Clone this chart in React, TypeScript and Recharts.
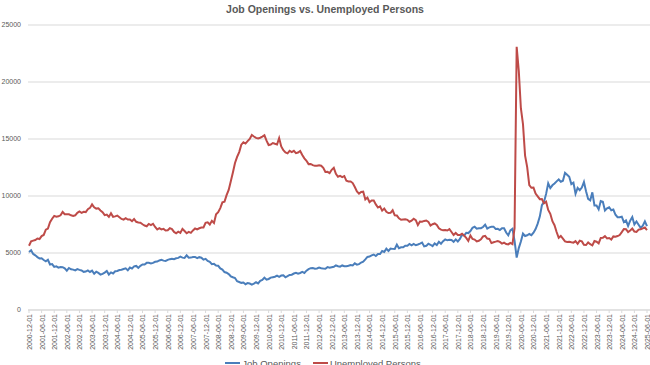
import { LineChart, Line, XAxis, YAxis, CartesianGrid, Legend } from "recharts"

// monthly, 2000-12 .. 2025-06 (thousands)
const jobOpenings = [
  5088,
  5234, 4918, 4797, 4640, 4524, 4534, 4386, 4276, 4410, 3993, 4032, 3781,
  3826, 3713, 3773, 3757, 3659, 3452, 3686, 3568, 3541, 3470, 3585, 3519,
  3463, 3347, 3370, 3472, 3336, 3450, 3176, 3361, 3254, 3108, 3171, 3285,
  3422, 3113, 3301, 3203, 3403, 3420, 3504, 3528, 3601, 3660, 3479, 3722,
  3642, 3828, 3868, 3698, 3877, 3999, 3985, 4135, 4139, 4081, 4136, 4232,
  4244, 4343, 4400, 4332, 4303, 4397, 4459, 4498, 4449, 4534, 4572, 4675,
  4592, 4567, 4798, 4585, 4596, 4641, 4649, 4541, 4634, 4589, 4422, 4483,
  4298, 4218, 4013, 4045, 3903, 3878, 3645, 3543, 3329, 3265, 3145, 2955,
  2877, 2810, 2523, 2459, 2381, 2416, 2261, 2365, 2319, 2232, 2312, 2433,
  2336, 2555, 2637, 2842, 2661, 2722, 2839, 2880, 2921, 3015, 2914, 3022,
  3043, 2869, 2965, 3070, 3097, 3200, 3266, 3186, 3250, 3337, 3251, 3449,
  3585, 3666, 3673, 3614, 3645, 3724, 3662, 3638, 3625, 3765, 3704, 3754,
  3784, 3919, 3840, 3803, 3908, 3840, 3837, 3884, 3950, 3909, 4095, 3981,
  4021, 4164, 4236, 4438, 4653, 4684, 4785, 4864, 4733, 4910, 4913, 5177,
  5087, 5379, 5176, 5387, 5362, 5346, 5731, 5420, 5502, 5495, 5636, 5645,
  5798, 5678, 5796, 5680, 5742, 5820, 5916, 5577, 5629, 5816, 5723, 5599,
  5842, 5703, 5992, 5815, 6035, 6193, 6112, 6152, 6134, 5981, 6196, 6004,
  6233, 6597, 6530, 6773, 6747, 6926, 7209, 7306, 7128, 7170, 7175, 7281,
  7487, 7146, 7245, 7296, 7308, 7109, 7123, 7011, 7168, 7164, 6799, 6552,
  6979, 7118, 6058, 4601, 5431, 6001, 6697, 6492, 6556, 6666, 6565, 6784,
  7099, 7575, 8191, 9193, 9483, 10185, 11108, 10695, 10940, 11094, 11283, 11448,
  11255, 11344, 12027, 11855, 11681, 11040, 11170, 10198, 10717, 10512, 10746, 11234,
  10425, 9745, 9617, 10320, 9165, 9165, 8827, 9553, 9497, 8733, 8925, 9011,
  8748, 8813, 8355, 8140, 8140, 8184, 7711, 7861, 7372, 7839, 8156, 7508,
  7762, 7480, 7200, 7391, 7769, 7357,
]

const unemployed = [
  5634,
  6023, 6089, 6141, 6271, 6226, 6484, 6583, 7042, 7142, 7694, 8003, 8258,
  8182, 8215, 8304, 8599, 8399, 8393, 8390, 8304, 8251, 8307, 8520, 8640,
  8520, 8618, 8588, 8842, 8957, 9266, 9011, 8896, 8921, 8732, 8576, 8317,
  8370, 8167, 8491, 8170, 8212, 8286, 8136, 7990, 7927, 8061, 7932, 7934,
  7784, 7980, 7737, 7672, 7651, 7524, 7406, 7345, 7553, 7453, 7566, 7279,
  7064, 7184, 7072, 7120, 6980, 7001, 7175, 7091, 6847, 6727, 6872, 6762,
  7116, 6927, 6731, 6850, 6766, 6979, 7149, 7067, 7170, 7237, 7240, 7645,
  7685, 7497, 7822, 7637, 8395, 8575, 8937, 9438, 9494, 10074, 10538, 11286,
  12058, 12898, 13426, 13853, 14499, 14707, 14601, 14814, 15009, 15352, 15219, 15098,
  15046, 15113, 15202, 15325, 14849, 14474, 14512, 14648, 14579, 14516, 15081, 14348,
  14013, 13820, 13737, 13957, 13855, 13962, 13763, 13818, 13948, 13594, 13302, 13093,
  12797, 12813, 12713, 12646, 12660, 12692, 12656, 12471, 12115, 12124, 12005, 12298,
  12471, 11950, 11689, 11760, 11654, 11751, 11335, 11279, 11270, 11136, 10787, 10404,
  10202, 10349, 10380, 9702, 9859, 9460, 9608, 9599, 9262, 8990, 9090, 8717,
  8903, 8610, 8504, 8526, 8749, 8310, 8285, 8043, 7915, 7940, 7961, 7906,
  7741, 7840, 8008, 7880, 7451, 7755, 7744, 7813, 7855, 7732, 7409, 7527,
  7589, 7455, 7173, 7054, 6989, 7009, 6971, 7087, 6843, 6576, 6757, 6572,
  6572, 6687, 6529, 6329, 6058, 6541, 6233, 6178, 6012, 6076, 6203, 6451,
  6509, 6271, 6235, 5869, 5942, 5995, 6054, 5968, 5821, 5913, 5789, 5753,
  5892, 5787, 7185, 23090, 20985, 17697, 16308, 13542, 12535, 10956, 10718, 10736,
  10220, 9970, 9722, 9733, 9357, 9493, 8775, 8441, 7788, 7439, 6840, 6333,
  6499, 6266, 6021, 5970, 5986, 5941, 5909, 6038, 5802, 6082, 6016, 5722,
  5698, 5930, 5769, 5670, 6053, 5989, 5842, 6322, 6327, 6479, 6279, 6311,
  6173, 6451, 6423, 6485, 6577, 6833, 7108, 7084, 6834, 6982, 7142, 6886,
  6849, 7052, 7083, 7163, 7237, 7015,
]

const yTicks = [0, 5000, 10000, 15000, 20000, 25000]

const START_YEAR = 2000
const START_MONTH = 12

const dates = jobOpenings.map((_, i) => {
  const m0 = START_MONTH - 1 + i
  const y = START_YEAR + Math.floor(m0 / 12)
  const m = (m0 % 12) + 1
  return `${y}-${m < 10 ? "0" + m : m}-01`
})

const data = dates.map((date, i) => ({
  date,
  jobs: jobOpenings[i],
  unemployed: unemployed[i],
}))

const FONT = "'Liberation Sans', Arial, sans-serif"
const GREY = "#595959"

function LegendBox(props: any) {
  const items = props.payload || []
  return (
    <div
      style={{
        height: 16,
        display: "flex",
        justifyContent: "center",
        alignItems: "center",
        gap: 12,
        fontFamily: FONT,
        fontSize: 9.5,
        color: GREY,
        paddingRight: 4,
      }}
    >
      {items.map((it: any) => (
        <div key={it.value} style={{ display: "flex", alignItems: "center" }}>
          <span
            style={{
              display: "inline-block",
              width: 15,
              height: 2.5,
              background: it.color,
              marginRight: 2,
            }}
          />
          <span>{it.value}</span>
        </div>
      ))}
    </div>
  )
}

export default function App() {
  return (
    <div style={{ position: "absolute", left: 0, top: 0, width: 650, height: 380 }}>
      <div
        style={{
          position: "absolute",
          top: 3,
          left: 0,
          width: 650,
          textAlign: "center",
          fontFamily: FONT,
          fontSize: 10.5,
          fontWeight: "bold",
          color: GREY,
        }}
      >
        Job Openings vs. Unemployed Persons
      </div>
      <LineChart
        width={650}
        height={380}
        data={data}
        margin={{ top: 25, right: 0, left: 0, bottom: 9 }}
      >
        <CartesianGrid vertical={false} stroke="#d9d9d9" />
        <XAxis
          dataKey="date"
          interval={5}
          angle={-90}
          textAnchor="end"
          height={45}
          padding={{ left: 1, right: 3 }}
          stroke="#d9d9d9"
          tickSize={3}
          tickMargin={1}
          tick={{ fontSize: 7, fill: GREY, fontFamily: FONT, dx: -2 }}
        />
        <YAxis
          domain={[0, 25000]}
          ticks={yTicks}
          width={28}
          axisLine={false}
          tickLine={false}
          tickSize={0}
          tickMargin={7}
          tick={{ fontSize: 7, fill: GREY, fontFamily: FONT }}
        />
        <Legend verticalAlign="bottom" align="center" content={<LegendBox />} />
        <Line
          name="Job Openings"
          dataKey="jobs"
          stroke="#4a7ebb"
          strokeWidth={2}
          dot={false}
          isAnimationActive={false}
        />
        <Line
          name="Unemployed Persons"
          dataKey="unemployed"
          stroke="#be4b48"
          strokeWidth={2}
          dot={false}
          isAnimationActive={false}
        />
      </LineChart>
    </div>
  )
}
